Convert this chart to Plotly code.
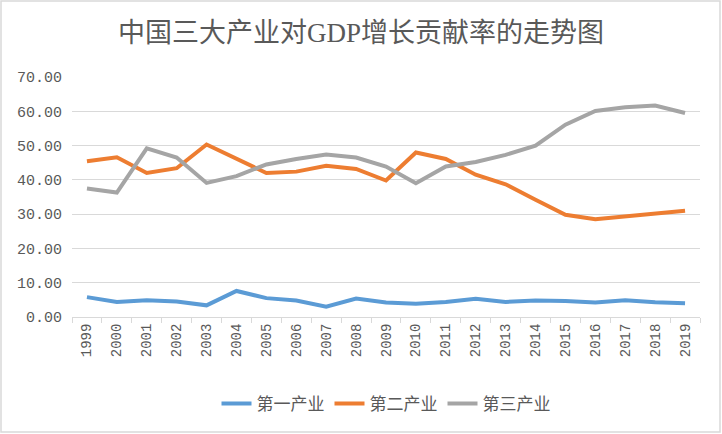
import plotly.graph_objects as go

years = [str(y) for y in range(1999, 2020)]
primary = [5.8, 4.4, 4.9, 4.5, 3.4, 7.6, 5.5, 4.8, 3.0, 5.4, 4.2, 3.9, 4.4, 5.3, 4.4, 4.8, 4.7, 4.2, 4.9, 4.3, 4.0]
secondary = [45.4, 46.6, 42.0, 43.4, 50.3, 46.2, 42.0, 42.4, 44.1, 43.2, 39.8, 48.0, 46.1, 41.5, 38.7, 34.2, 29.8, 28.5, 29.4, 30.2, 31.0]
tertiary = [37.5, 36.3, 49.2, 46.5, 39.1, 41.1, 44.5, 46.1, 47.4, 46.5, 43.9, 39.0, 43.9, 45.2, 47.3, 50.0, 56.1, 60.1, 61.2, 61.7, 59.5]
names = ["第一产业", "第二产业", "第三产业"]
colors = ["#5B9BD5", "#ED7D31", "#A5A5A5"]
title = "中国三大产业对GDP增长贡献率的走势图"
yticks = [0, 10, 20, 30, 40, 50, 60, 70]

FONT = "Liberation Serif, Noto Sans CJK SC, serif"
MONO = "Liberation Mono, DejaVu Sans Mono, monospace"

fig = go.Figure()
for name, vals, c in zip(names, [primary, secondary, tertiary], colors):
    fig.add_trace(go.Scatter(x=years, y=vals, mode="lines", name=name,
                             line=dict(color=c, width=4)))

W, H = 722, 434
ml, mr, mt, mb = 72, 22, 77, 117
pw, ph = W - ml - mr, H - mt - mb

fig.update_layout(
    width=W, height=H,
    margin=dict(l=ml, r=mr, t=mt, b=mb),
    paper_bgcolor="white", plot_bgcolor="white",
    font=dict(family=FONT, color="#595959", size=14),
    title=dict(text=title, x=0.5, xanchor="center", y=1 - 33 / H, yanchor="middle",
               font=dict(size=27, color="#595959", family=FONT)),
    showlegend=True,
    legend=dict(orientation="h", x=0.5, xanchor="center", y=(ph - (404 - mt)) / ph,
                yanchor="middle", font=dict(size=17, color="#595959"),
                itemwidth=30, tracegroupgap=0),
    xaxis=dict(type="category", range=[-0.5, 20.5], tickangle=-90,
               showgrid=False, showline=True, linecolor="#D9D9D9", linewidth=1,
               ticks="outside", tickson="boundaries", ticklen=5, tickcolor="#D9D9D9",
               tickfont=dict(size=14, color="#595959", family=MONO)),
    yaxis=dict(range=[0, 70], tickvals=yticks, tickformat=".2f",
               showgrid=True, gridcolor="#D9D9D9", gridwidth=1, zeroline=False,
               showline=False, ticks="", ticklabelstandoff=9,
               tickfont=dict(size=15, color="#595959", family=MONO)),
    shapes=[dict(type="rect", xref="paper", yref="paper",
                 x0=(1 - ml) / pw, x1=(W - 2 - ml) / pw,
                 y0=(ph - (H - 2 - mt)) / ph, y1=(ph - (1 - mt)) / ph,
                 line=dict(color="#D9D9D9", width=1.5), layer="below")],
)

fig.write_html("out.html", config={"displayModeBar": False},
               post_script="document.body.style.margin='0';document.body.style.overflow='hidden';")
